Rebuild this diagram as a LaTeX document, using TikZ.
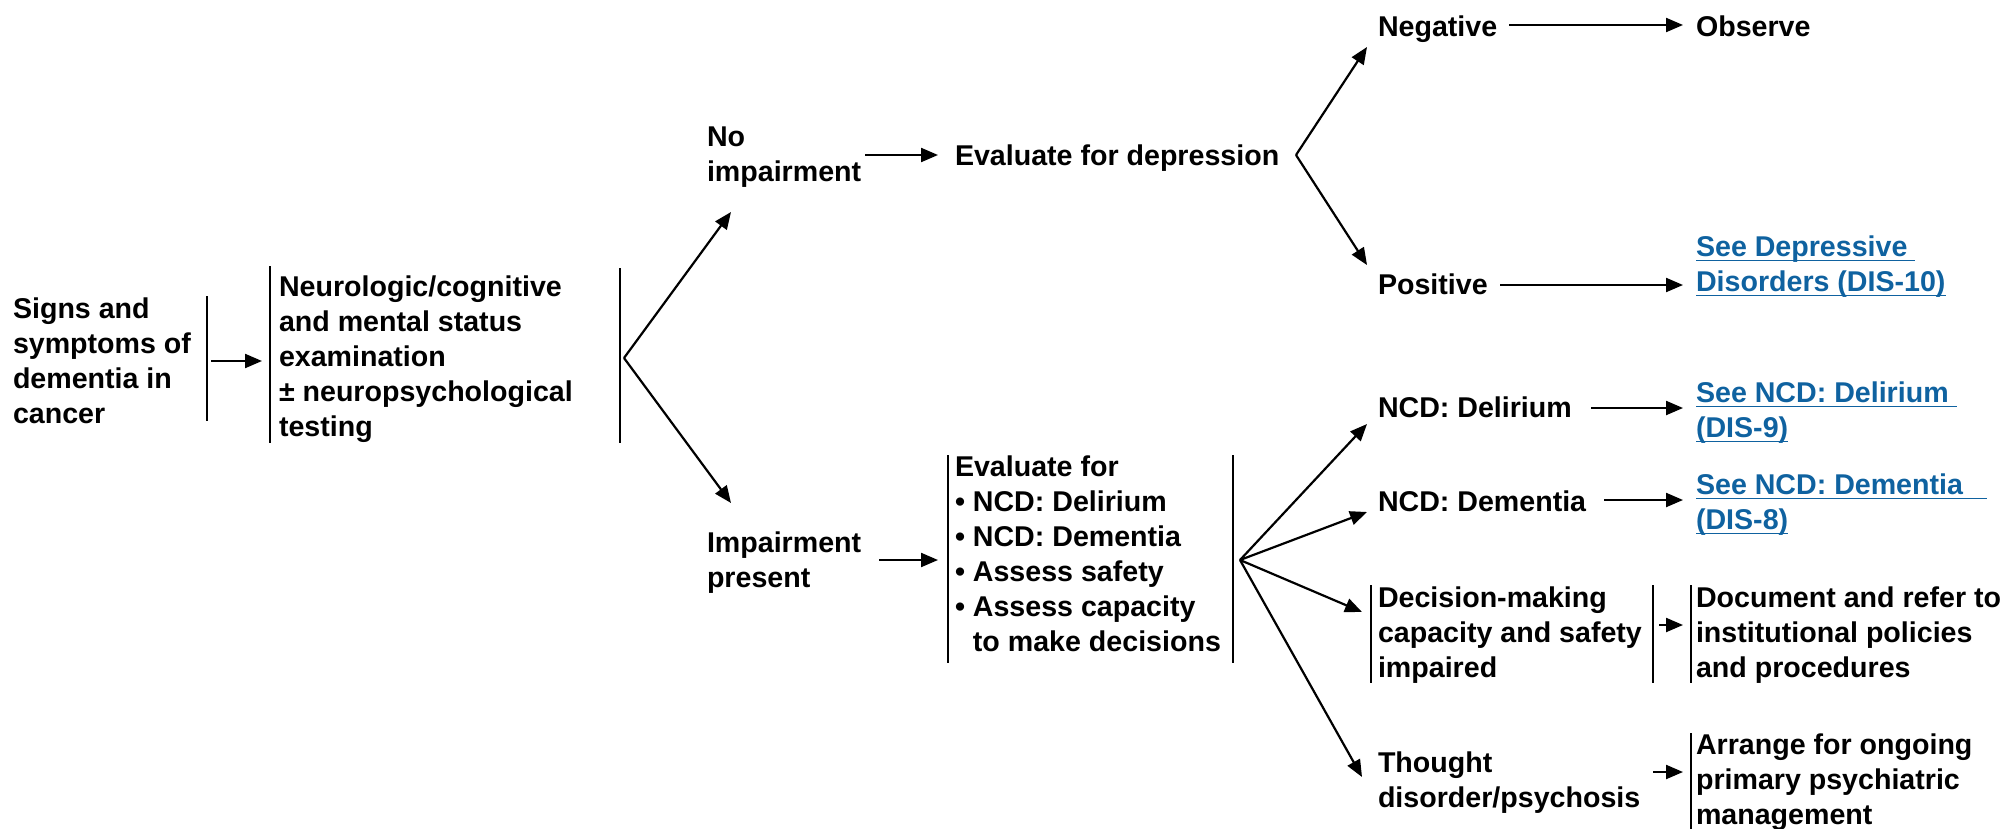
\documentclass[tikz,border=0pt]{standalone}
\usepackage{fontspec}
\setmainfont{Liberation Sans}
\usetikzlibrary{arrows.meta}
\definecolor{linkblue}{RGB}{15,98,160}
\newcommand\lnk[1]{\setbox0\hbox{#1}\rlap{\rule[-2.3pt]{\wd0}{0.9pt}}\box0}
\begin{document}
\begin{tikzpicture}[x=0.5pt,y=-0.5pt,
  txt/.style={font=\fontsize{14.3pt}{17.5pt}\selectfont\bfseries, inner sep=0pt, outer sep=0pt, anchor=north west, align=left},
  linktxt/.style={txt, text=linkblue},
  bar/.style={line width=1.1pt},
  arr/.style={line width=1.1pt, -{Triangle[length=8.5pt,width=7pt]}}]
\useasboundingbox (0,0) rectangle (2001,829);

% text nodes
\node[txt] (start) at (13,298) {Signs and\\symptoms of\\dementia in\\cancer};
\node[txt] (neuro) at (279,276) {Neurologic/cognitive\\and mental status\\examination\\± neuropsychological\\testing};
\node[txt] (noimp) at (707,127) {No\\impairment};
\node[txt] (evaldep) at (955,145) {Evaluate for depression};
\node[txt] (neg) at (1378,16) {Negative};
\node[txt] (obs) at (1696,16) {Observe};
\node[txt] (pos) at (1378,274) {Positive};
\node[linktxt] (seedep) at (1696,236) {\lnk{See Depressive\ }\\\lnk{Disorders (DIS-10)}};
\node[txt] (imp) at (707,532) {Impairment\\present};
\node[txt] (evalfor) at (955,456) {Evaluate for\\• NCD: Delirium\\• NCD: Dementia\\• Assess safety\\• Assess capacity\\\phantom{• }to make decisions};
\node[txt] (delir) at (1378,397) {NCD: Delirium};
\node[linktxt] (seedel) at (1696,382) {\lnk{See NCD: Delirium\ }\\\lnk{(DIS-9)}};
\node[txt] (dement) at (1378,491) {NCD: Dementia};
\node[linktxt] (seedem) at (1696,474) {\lnk{See NCD: Dementia\ \ \ }\\\lnk{(DIS-8)}};
\node[txt] (decis) at (1378,587) {Decision-making\\capacity and safety\\impaired};
\node[txt] (docu) at (1696,587) {Document and refer to\\institutional policies\\and procedures};
\node[txt] (thought) at (1378,752) {Thought\\disorder/psychosis};
\node[txt] (arrange) at (1696,734) {Arrange for ongoing\\primary psychiatric\\management};

% bars beside the boxes
\draw[bar] (207,296) -- (207,421);
\draw[bar] (270,266) -- (270,443);
\draw[bar] (620,268) -- (620,443);
\draw[bar] (948,455) -- (948,663);
\draw[bar] (1233,455) -- (1233,663);
\draw[bar] (1371,585) -- (1371,683);
\draw[bar] (1653,585) -- (1653,683);
\draw[bar] (1691,585) -- (1691,683);
\draw[bar] (1691,733) -- (1691,829);

% connector end points
\coordinate (a1s) at (211,361);  \coordinate (a1e) at (262,361);
\coordinate (b1)  at (624,358);
\coordinate (b1u) at (731,212);  \coordinate (b1d) at (731,503);
\coordinate (a2s) at (865,155);  \coordinate (a2e) at (938,155);
\coordinate (b2)  at (1296,155);
\coordinate (b2u) at (1367,47);  \coordinate (b2d) at (1367,265);
\coordinate (a3s) at (1509,25);  \coordinate (a3e) at (1683,25);
\coordinate (a4s) at (1500,285); \coordinate (a4e) at (1683,285);
\coordinate (a5s) at (879,560);  \coordinate (a5e) at (938,560);
\coordinate (b3)  at (1240,560);
\coordinate (b3a) at (1367,424); \coordinate (b3b) at (1367,512);
\coordinate (b3c) at (1362,612); \coordinate (b3d) at (1362,777);
\coordinate (a6s) at (1591,408); \coordinate (a6e) at (1683,408);
\coordinate (a7s) at (1604,500); \coordinate (a7e) at (1683,500);
\coordinate (a8s) at (1659,625); \coordinate (a8e) at (1683,625);
\coordinate (a9s) at (1653,772); \coordinate (a9e) at (1683,772);

% connectors
\draw[arr] (a1s) -- (a1e);
\draw[arr] (b1) -- (b1u);
\draw[arr] (b1) -- (b1d);
\draw[arr] (a2s) -- (a2e);
\draw[arr] (b2) -- (b2u);
\draw[arr] (b2) -- (b2d);
\draw[arr] (a3s) -- (a3e);
\draw[arr] (a4s) -- (a4e);
\draw[arr] (a5s) -- (a5e);
\draw[arr] (b3) -- (b3a);
\draw[arr] (b3) -- (b3b);
\draw[arr] (b3) -- (b3c);
\draw[arr] (b3) -- (b3d);
\draw[arr] (a6s) -- (a6e);
\draw[arr] (a7s) -- (a7e);
\draw[arr] (a8s) -- (a8e);
\draw[arr] (a9s) -- (a9e);
\end{tikzpicture}
\end{document}
